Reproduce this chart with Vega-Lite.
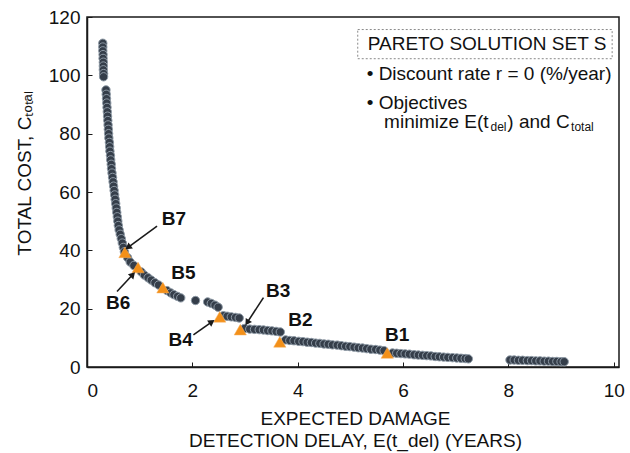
{
  "$schema": "https://vega.github.io/schema/vega-lite/v6.json",
  "width": 532,
  "height": 350,
  "autosize": "none",
  "padding": {"left": 87, "top": 17, "right": 11, "bottom": 86},
  "background": "white",
  "config": {
    "font": "Liberation Sans",
    "view": {"stroke": "#1a1a1a", "strokeWidth": 1.5},
    "axis": {
      "grid": false,
      "domainColor": "#1a1a1a",
      "domainWidth": 1.5,
      "tickColor": "#1a1a1a",
      "tickSize": -5,
      "labelFont": "Liberation Sans",
      "labelFontSize": 19,
      "labelColor": "#111111",
      "titleFont": "Liberation Sans",
      "titleFontSize": 19,
      "titleFontWeight": "normal",
      "titleColor": "#111111"
    }
  },
  "datasets": {
    "curve": [
      {"x": 0.30, "y": 111.0}, {"x": 0.30, "y": 109.7}, {"x": 0.30, "y": 108.4}, {"x": 0.305, "y": 107.1},
      {"x": 0.305, "y": 105.8}, {"x": 0.31, "y": 104.5}, {"x": 0.31, "y": 103.2}, {"x": 0.31, "y": 101.9},
      {"x": 0.315, "y": 100.6}, {"x": 0.315, "y": 99.5},
      {"x": 0.36, "y": 95.0}, {"x": 0.365, "y": 93.5}, {"x": 0.37, "y": 92.0}, {"x": 0.375, "y": 90.5},
      {"x": 0.38, "y": 89.0}, {"x": 0.385, "y": 87.5}, {"x": 0.39, "y": 86.0}, {"x": 0.395, "y": 84.5},
      {"x": 0.40, "y": 83.0}, {"x": 0.405, "y": 81.5}, {"x": 0.41, "y": 80.0}, {"x": 0.415, "y": 78.5},
      {"x": 0.425, "y": 77.0}, {"x": 0.43, "y": 75.5}, {"x": 0.435, "y": 74.0}, {"x": 0.445, "y": 72.5},
      {"x": 0.45, "y": 71.0}, {"x": 0.46, "y": 69.5}, {"x": 0.465, "y": 68.0}, {"x": 0.475, "y": 66.5},
      {"x": 0.485, "y": 65.0}, {"x": 0.495, "y": 63.5}, {"x": 0.505, "y": 62.0}, {"x": 0.515, "y": 60.5},
      {"x": 0.525, "y": 59.0}, {"x": 0.535, "y": 57.5}, {"x": 0.545, "y": 56.0}, {"x": 0.555, "y": 54.5},
      {"x": 0.565, "y": 53.0}, {"x": 0.575, "y": 51.5}, {"x": 0.585, "y": 50.0}, {"x": 0.595, "y": 48.5},
      {"x": 0.61, "y": 47.0}, {"x": 0.63, "y": 45.5}, {"x": 0.65, "y": 44.0}, {"x": 0.67, "y": 42.5},
      {"x": 0.69, "y": 41.0}, {"x": 0.71, "y": 39.5},
      {"x": 0.77, "y": 37.5}, {"x": 0.82, "y": 36.0}, {"x": 0.89, "y": 34.8}, {"x": 1.03, "y": 32.6},
      {"x": 1.09, "y": 31.5}, {"x": 1.16, "y": 30.6}, {"x": 1.22, "y": 29.8}, {"x": 1.29, "y": 28.9},
      {"x": 1.36, "y": 28.1}, {"x": 1.52, "y": 26.2}, {"x": 1.59, "y": 25.4}, {"x": 1.65, "y": 24.8},
      {"x": 1.72, "y": 24.2}, {"x": 1.78, "y": 23.7},
      {"x": 2.06, "y": 22.8},
      {"x": 2.29, "y": 22.3}, {"x": 2.36, "y": 21.8}, {"x": 2.43, "y": 21.2}, {"x": 2.49, "y": 20.5},
      {"x": 2.59, "y": 17.6}, {"x": 2.66, "y": 17.4}, {"x": 2.74, "y": 17.2}, {"x": 2.82, "y": 17.0},
      {"x": 2.89, "y": 16.8},
      {"x": 2.99, "y": 13.2}, {"x": 3.09, "y": 13.0}, {"x": 3.18, "y": 12.9}, {"x": 3.27, "y": 12.8},
      {"x": 3.35, "y": 12.7}, {"x": 3.43, "y": 12.5}, {"x": 3.51, "y": 12.4}, {"x": 3.59, "y": 12.2},
      {"x": 3.67, "y": 12.0},
      {"x": 3.77, "y": 9.3}, {"x": 3.85, "y": 9.1}, {"x": 3.93, "y": 9.0}, {"x": 4.02, "y": 8.8},
      {"x": 4.10, "y": 8.7}, {"x": 4.18, "y": 8.5}, {"x": 4.26, "y": 8.4}, {"x": 4.34, "y": 8.2},
      {"x": 4.42, "y": 8.1}, {"x": 4.50, "y": 7.9}, {"x": 4.58, "y": 7.8}, {"x": 4.66, "y": 7.6},
      {"x": 4.75, "y": 7.5}, {"x": 4.83, "y": 7.3}, {"x": 4.91, "y": 7.1}, {"x": 4.99, "y": 7.0},
      {"x": 5.07, "y": 6.8}, {"x": 5.15, "y": 6.6}, {"x": 5.23, "y": 6.5}, {"x": 5.31, "y": 6.3},
      {"x": 5.39, "y": 6.1}, {"x": 5.48, "y": 6.0}, {"x": 5.56, "y": 5.8}, {"x": 5.64, "y": 5.6},
      {"x": 5.80, "y": 4.8}, {"x": 5.88, "y": 4.7}, {"x": 5.96, "y": 4.6}, {"x": 6.04, "y": 4.5},
      {"x": 6.12, "y": 4.4}, {"x": 6.21, "y": 4.2}, {"x": 6.29, "y": 4.1}, {"x": 6.37, "y": 4.0},
      {"x": 6.45, "y": 3.9}, {"x": 6.53, "y": 3.8}, {"x": 6.61, "y": 3.6}, {"x": 6.69, "y": 3.5},
      {"x": 6.77, "y": 3.4}, {"x": 6.85, "y": 3.3}, {"x": 6.94, "y": 3.2}, {"x": 7.02, "y": 3.1},
      {"x": 7.10, "y": 3.0}, {"x": 7.18, "y": 2.9}, {"x": 7.24, "y": 2.8},
      {"x": 8.03, "y": 2.4}, {"x": 8.11, "y": 2.4}, {"x": 8.19, "y": 2.3}, {"x": 8.27, "y": 2.3},
      {"x": 8.36, "y": 2.2}, {"x": 8.44, "y": 2.2}, {"x": 8.52, "y": 2.1}, {"x": 8.60, "y": 2.1},
      {"x": 8.68, "y": 2.0}, {"x": 8.76, "y": 2.0}, {"x": 8.84, "y": 1.9}, {"x": 8.92, "y": 1.9},
      {"x": 9.00, "y": 1.8}, {"x": 9.06, "y": 1.8}
    ],
    "selected": [
      {"name": "B7", "x": 0.72, "y": 39.3},
      {"name": "B6", "x": 0.97, "y": 34.1},
      {"name": "B5", "x": 1.44, "y": 27.2},
      {"name": "B4", "x": 2.52, "y": 17.2},
      {"name": "B3", "x": 2.91, "y": 12.8},
      {"name": "B2", "x": 3.66, "y": 8.6},
      {"name": "B1", "x": 5.70, "y": 4.8}
    ],
    "labels": [
      {"name": "B7", "x": 1.65, "y": 50.7},
      {"name": "B6", "x": 0.59, "y": 22.1},
      {"name": "B5", "x": 1.83, "y": 32.1},
      {"name": "B4", "x": 1.78, "y": 9.3},
      {"name": "B3", "x": 3.63, "y": 26.2},
      {"name": "B2", "x": 4.05, "y": 16.2},
      {"name": "B1", "x": 5.89, "y": 11.0}
    ],
    "arrows": [
      {"name": "B7", "x": 1.33, "y": 48.3, "x2": 0.78, "y2": 41.0},
      {"name": "B6", "x": 0.57, "y": 25.9, "x2": 0.87, "y2": 31.7},
      {"name": "B4", "x": 2.02, "y": 11.0, "x2": 2.37, "y2": 15.5},
      {"name": "B3", "x": 3.35, "y": 23.8, "x2": 3.04, "y2": 15.2}
    ],
    "box": [{"x": 5.14, "x2": 9.97, "y": 105.7, "y2": 115.7}],
    "notes": [
      {"text": "PARETO SOLUTION SET S", "x": 5.33, "y": 110.9},
      {"text": "• Discount rate r = 0 (%/year)", "x": 5.31, "y": 100.6},
      {"text": "• Objectives", "x": 5.31, "y": 90.6},
      {"text": "minimize E(t", "x": 5.64, "y": 84.0},
      {"text": ") and C", "x": 7.98, "y": 84.0}
    ],
    "subs": [
      {"text": "del", "x": 7.66, "y": 82.2},
      {"text": "total", "x": 9.19, "y": 82.2}
    ]
  },
  "layer": [
    {
      "data": {"name": "curve"},
      "mark": {"type": "circle", "size": 70, "fill": "#353e4a", "fillOpacity": 1, "stroke": "#8e9aa6", "strokeWidth": 1},
      "encoding": {
        "x": {
          "field": "x", "type": "quantitative",
          "scale": {"domain": [0, 10.1], "nice": false},
          "axis": {
            "values": [0, 2, 4, 6, 8, 10],
            "labelPadding": 19,
            "title": ["EXPECTED DAMAGE", "DETECTION DELAY, E(t_del) (YEARS)"],
            "titleX": 268, "titleY": 42, "titleAnchor": "middle", "titleAlign": "center",
            "titleBaseline": "top", "titleLineHeight": 22
          }
        },
        "y": {
          "field": "y", "type": "quantitative",
          "scale": {"domain": [0, 120], "nice": false},
          "axis": {
            "values": [0, 20, 40, 60, 80, 100, 120],
            "labelPadding": 12,
            "title": "TOTAL COST, Cₜₒₜₐₗ",
            "titleX": -63, "titleY": 156, "titleAngle": -90, "titleAlign": "center", "titleBaseline": "middle"
          }
        }
      }
    },
    {
      "data": {"name": "selected"},
      "mark": {"type": "point", "shape": "triangle-up", "size": 150, "filled": true, "fill": "#f39019", "opacity": 1, "stroke": "#f7b060", "strokeWidth": 0.5},
      "encoding": {
        "x": {"field": "x", "type": "quantitative"},
        "y": {"field": "y", "type": "quantitative"}
      }
    },
    {
      "data": {"name": "arrows"},
      "mark": {"type": "rule", "color": "#1a1a1a", "strokeWidth": 1.6},
      "encoding": {
        "x": {"field": "x", "type": "quantitative"},
        "y": {"field": "y", "type": "quantitative"},
        "x2": {"field": "x2"},
        "y2": {"field": "y2"}
      }
    },
    {
      "data": {"name": "arrows"},
      "transform": [{"filter": "datum.name === 'B7'"}],
      "mark": {"type": "point", "shape": "triangle-up", "size": 55, "filled": true, "color": "#1a1a1a", "opacity": 1, "angle": 234},
      "encoding": {
        "x": {"field": "x2", "type": "quantitative"},
        "y": {"field": "y2", "type": "quantitative"}
      }
    },
    {
      "data": {"name": "arrows"},
      "transform": [{"filter": "datum.name === 'B6'"}],
      "mark": {"type": "point", "shape": "triangle-up", "size": 55, "filled": true, "color": "#1a1a1a", "opacity": 1, "angle": 43},
      "encoding": {
        "x": {"field": "x2", "type": "quantitative"},
        "y": {"field": "y2", "type": "quantitative"}
      }
    },
    {
      "data": {"name": "arrows"},
      "transform": [{"filter": "datum.name === 'B4'"}],
      "mark": {"type": "point", "shape": "triangle-up", "size": 55, "filled": true, "color": "#1a1a1a", "opacity": 1, "angle": 56},
      "encoding": {
        "x": {"field": "x2", "type": "quantitative"},
        "y": {"field": "y2", "type": "quantitative"}
      }
    },
    {
      "data": {"name": "arrows"},
      "transform": [{"filter": "datum.name === 'B3'"}],
      "mark": {"type": "point", "shape": "triangle-up", "size": 55, "filled": true, "color": "#1a1a1a", "opacity": 1, "angle": 213},
      "encoding": {
        "x": {"field": "x2", "type": "quantitative"},
        "y": {"field": "y2", "type": "quantitative"}
      }
    },
    {
      "data": {"name": "labels"},
      "mark": {"type": "text", "font": "Liberation Sans", "fontSize": 19, "fontWeight": "bold", "color": "#111111", "align": "center", "baseline": "middle"},
      "encoding": {
        "x": {"field": "x", "type": "quantitative"},
        "y": {"field": "y", "type": "quantitative"},
        "text": {"field": "name"}
      }
    },
    {
      "data": {"name": "box"},
      "mark": {"type": "rect", "filled": false, "stroke": "#8a8a8a", "strokeWidth": 1, "strokeDash": [2, 2]},
      "encoding": {
        "x": {"field": "x", "type": "quantitative"},
        "x2": {"field": "x2"},
        "y": {"field": "y", "type": "quantitative"},
        "y2": {"field": "y2"}
      }
    },
    {
      "data": {"name": "notes"},
      "mark": {"type": "text", "font": "Liberation Sans", "fontSize": 19, "color": "#111111", "align": "left", "baseline": "middle"},
      "encoding": {
        "x": {"field": "x", "type": "quantitative"},
        "y": {"field": "y", "type": "quantitative"},
        "text": {"field": "text"}
      }
    },
    {
      "data": {"name": "subs"},
      "mark": {"type": "text", "font": "Liberation Sans", "fontSize": 12, "color": "#111111", "align": "left", "baseline": "middle"},
      "encoding": {
        "x": {"field": "x", "type": "quantitative"},
        "y": {"field": "y", "type": "quantitative"},
        "text": {"field": "text"}
      }
    }
  ]
}
